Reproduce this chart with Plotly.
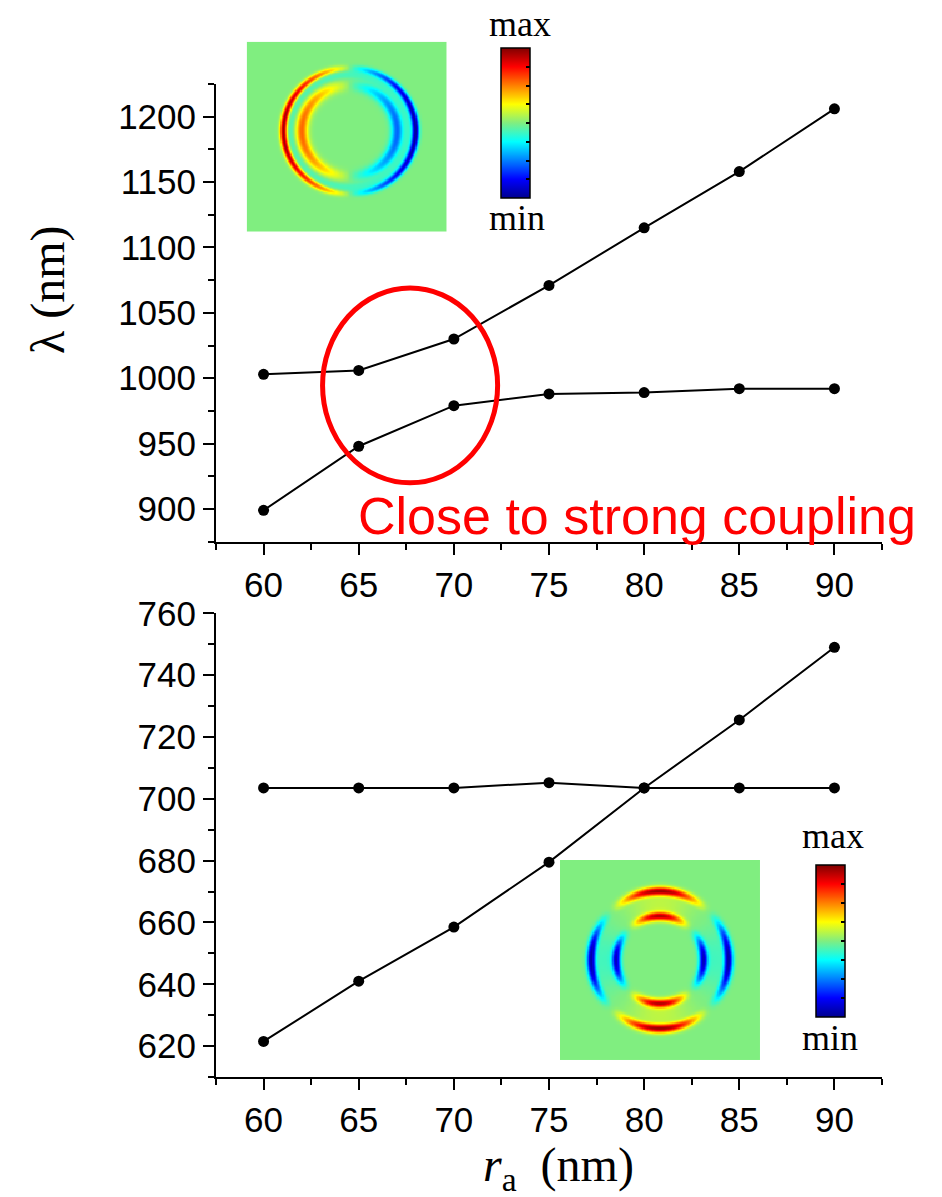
import numpy as np
import plotly.graph_objects as go

# ---------------- data ----------------
ra_nm = [60, 65, 70, 75, 80, 85, 90]
top_upper = [1003, 1006, 1030, 1071, 1115, 1158, 1206]
top_lower = [899, 948, 979, 988, 989, 992, 992]
bottom_flat = [703.5, 703.5, 703.5, 705.2, 703.5, 703.5, 703.5]
bottom_rising = [621.5, 641, 658.5, 679.5, 703.5, 725.5, 749]

x_ticks = [60, 65, 70, 75, 80, 85, 90]
top_y_ticks = [900, 950, 1000, 1050, 1100, 1150, 1200]
bottom_y_ticks = [620, 640, 660, 680, 700, 720, 740, 760]
cbar_ticks = [-0.75, -0.5, -0.25, 0, 0.25, 0.5, 0.75]

# ---------------- layout helpers ----------------
W, H = 942, 1197
ML, MR, MT, MB = 216, 60, 20, 120
PW = W - ML - MR
PH = H - MT - MB


def px(xp):
    return (xp - ML) / PW


def py(yp):
    return (H - MB - yp) / PH


SANS = "Liberation Sans, Arial, sans-serif"
SERIF = "Liberation Serif, Times New Roman, serif"

jet = [[0.0, "rgb(0,0,143)"], [0.125, "rgb(0,0,255)"], [0.375, "rgb(0,255,255)"],
       [0.5, "rgb(128,238,128)"],
       [0.625, "rgb(255,255,0)"], [0.875, "rgb(255,0,0)"], [1.0, "rgb(128,0,0)"]]

# ---------------- inset field maps (illustrations) ----------------
N = 160
g = np.linspace(-1, 1, N)
X, Y = np.meshgrid(g, g)


def gauss(r, r0, w):
    return np.exp(-((r - r0) / w) ** 2)


def soft_band(r, r_in, r_out, s=0.012):
    return 1 / (1 + np.exp(-(r - r_in) / s)) * 1 / (1 + np.exp((r - r_out) / s))


# dipole (top inset)
cx, cy = 0.03, 0.06
R1 = np.hypot(X - cx, Y - cy)
T1 = np.arctan2(Y - cy, X - cx)
c1 = -np.cos(T1)
ang1 = np.sign(c1) * np.abs(c1) ** 0.8
field_top = ang1 * (0.95 * gauss(R1, 0.665, 0.035) + 0.55 * gauss(R1, 0.48, 0.06)) \
    - 0.12 * soft_band(R1, 0.56, 0.64)
field_top = np.clip(field_top, -1, 1)

# quadrupole (bottom inset)
R2 = np.hypot(X, Y)
T2 = np.arctan2(Y, X)
a2 = -np.cos(2 * T2)
ang2 = np.sign(a2) * np.abs(a2) ** 1.3
field_bot = ang2 * (0.95 * gauss(R2, 0.69, 0.045) + 0.9 * gauss(R2, 0.44, 0.045)
                    + 0.12 * soft_band(R2, 0.5, 0.62))
field_bot = np.clip(field_bot, -1, 1)

fig = go.Figure()

line_style = dict(color="black", width=2)
marker_style = dict(color="black", size=11, symbol="circle")

for ys in (top_upper, top_lower):
    fig.add_trace(go.Scatter(x=ra_nm, y=ys, mode="lines+markers", line=line_style,
                             marker=marker_style, xaxis="x", yaxis="y", showlegend=False))
for ys in (bottom_flat, bottom_rising):
    fig.add_trace(go.Scatter(x=ra_nm, y=ys, mode="lines+markers", line=line_style,
                             marker=marker_style, xaxis="x2", yaxis="y2", showlegend=False))


def cbar(xp, ytop, length):
    return dict(x=px(xp), xanchor="left", y=py(ytop), yanchor="top",
                len=length, lenmode="pixels", thickness=29, thicknessmode="pixels",
                outlinewidth=1.5, outlinecolor="black", showticklabels=False,
                tickmode="array", tickvals=cbar_ticks, ticks="inside", ticklen=4,
                tickcolor="black", tickwidth=1.5, xpad=0, ypad=0)


fig.add_trace(go.Heatmap(z=field_top, x=g, y=g, colorscale=jet, zmin=-1, zmax=1,
                         xaxis="x3", yaxis="y3", colorbar=cbar(501, 48, 150),
                         hoverinfo="skip"))
fig.add_trace(go.Heatmap(z=field_bot, x=g, y=g, colorscale=jet, zmin=-1, zmax=1,
                         xaxis="x4", yaxis="y4", colorbar=cbar(816, 865, 152),
                         hoverinfo="skip"))

common_x = dict(range=[57.5, 92.5], tickmode="array", tickvals=x_ticks,
                showline=True, linewidth=2, linecolor="black", mirror=False,
                ticks="outside", ticklen=11, tickwidth=2, tickcolor="black",
                minor=dict(ticks="outside", ticklen=6, tickwidth=2, tickcolor="black",
                           dtick=2.5, tick0=0, showgrid=False),
                showgrid=False, zeroline=False, automargin=False,
                tickfont=dict(family=SANS, size=35, color="black"))
common_y = dict(showline=True, linewidth=2, linecolor="black", mirror=False,
                ticks="outside", ticklen=11, tickwidth=2, tickcolor="black",
                showgrid=False, zeroline=False, automargin=False,
                tickfont=dict(family=SANS, size=35, color="black"))

inset_ax = dict(visible=False, showgrid=False, zeroline=False, range=[-1.006, 1.006],
                automargin=False)

fig.update_layout(
    width=W, height=H,
    margin=dict(l=ML, r=MR, t=MT, b=MB, autoexpand=False),
    paper_bgcolor="white", plot_bgcolor="white",
    showlegend=False,
    xaxis=dict(domain=[0, 1], anchor="y", **common_x),
    yaxis=dict(domain=[py(541.7), py(84)], anchor="x", range=[875, 1225],
               tickmode="array", tickvals=top_y_ticks,
               minor=dict(ticks="outside", ticklen=6, tickwidth=2, tickcolor="black",
                          dtick=25, tick0=0, showgrid=False),
               **common_y),
    xaxis2=dict(domain=[0, 1], anchor="y2", **common_x),
    yaxis2=dict(domain=[0, py(613.3)], anchor="x2", range=[610, 760],
                tickmode="array", tickvals=bottom_y_ticks,
                minor=dict(ticks="outside", ticklen=6, tickwidth=2, tickcolor="black",
                           dtick=10, tick0=0, showgrid=False),
                **common_y),
    xaxis3=dict(domain=[px(246.7), px(446.7)], anchor="y3", **inset_ax),
    yaxis3=dict(domain=[py(231.7), py(41.7)], anchor="x3", **inset_ax),
    xaxis4=dict(domain=[px(560), px(760)], anchor="y4", **inset_ax),
    yaxis4=dict(domain=[py(1060), py(860)], anchor="x4", **inset_ax),
)

# red ellipse
fig.add_shape(type="circle", xref="x", yref="y", x0=63.1, x1=72.3, y0=920, y1=1069,
              line=dict(color="red", width=5), fillcolor="rgba(0,0,0,0)")

annotations = [
    dict(text="Close to strong coupling", x=px(637), y=py(516), xref="paper", yref="paper",
         xanchor="center", yanchor="middle", showarrow=False,
         font=dict(family=SANS, size=52, color="red")),
    dict(text="λ (nm)", x=px(48), y=py(290), xref="paper", yref="paper", textangle=-90,
         xanchor="center", yanchor="middle", showarrow=False,
         font=dict(family=SERIF, size=48, color="black")),
    dict(text="<i>r</i><sub>a</sub>  (nm)", x=px(558), y=py(1168), xref="paper", yref="paper",
         xanchor="center", yanchor="middle", showarrow=False,
         font=dict(family=SERIF, size=48, color="black")),
    dict(text="max", x=px(520), y=py(24), xref="paper", yref="paper",
         xanchor="center", yanchor="middle", showarrow=False,
         font=dict(family=SERIF, size=36, color="black")),
    dict(text="min", x=px(517), y=py(218), xref="paper", yref="paper",
         xanchor="center", yanchor="middle", showarrow=False,
         font=dict(family=SERIF, size=36, color="black")),
    dict(text="max", x=px(833), y=py(836), xref="paper", yref="paper",
         xanchor="center", yanchor="middle", showarrow=False,
         font=dict(family=SERIF, size=36, color="black")),
    dict(text="min", x=px(830), y=py(1038), xref="paper", yref="paper",
         xanchor="center", yanchor="middle", showarrow=False,
         font=dict(family=SERIF, size=36, color="black")),
]
fig.update_layout(annotations=annotations)

fig.write_html("out.html")
